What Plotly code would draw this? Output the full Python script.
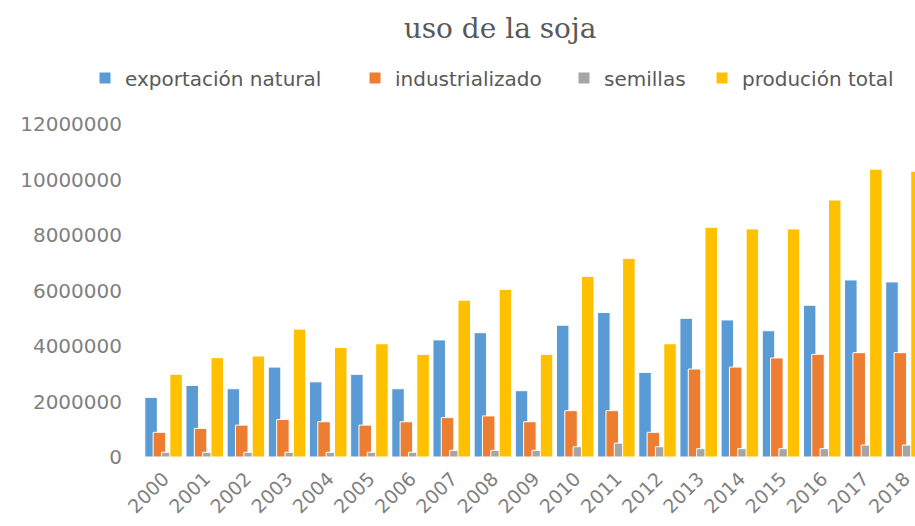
import plotly.graph_objects as go

years = [str(y) for y in range(2000, 2019)]
exportacion = [2150000, 2580000, 2460000, 3240000, 2710000, 2980000, 2460000, 4220000, 4480000, 2390000,
               4750000, 5210000, 3050000, 5000000, 4940000, 4550000, 5470000, 6380000, 6310000]
industrializado = [890000, 1030000, 1150000, 1350000, 1270000, 1150000, 1270000, 1420000, 1480000, 1270000,
                   1670000, 1670000, 890000, 3170000, 3240000, 3570000, 3700000, 3760000, 3760000]
semillas = [170000, 170000, 170000, 170000, 170000, 170000, 170000, 240000, 240000, 240000,
            370000, 500000, 370000, 300000, 300000, 300000, 300000, 430000, 430000]
produccion = [2980000, 3580000, 3640000, 4610000, 3950000, 4080000, 3700000, 5650000, 6040000, 3700000,
              6510000, 7160000, 4080000, 8280000, 8220000, 8220000, 9260000, 10370000, 10300000]
y_ticks = [0, 2000000, 4000000, 6000000, 8000000, 10000000, 12000000]

series = [
    ("exportación natural", exportacion, "#5B9BD5", -0.456, "legend", 85),
    ("industrializado", industrializado, "#ED7D31", -0.253, "legend2", 355),
    ("semillas", semillas, "#A5A5A5", -0.051, "legend3", 564),
    ("produción total", produccion, "#FFC000", 0.152, "legend4", 702),
]

xs = list(range(len(years)))
fig = go.Figure()
legend_layouts = {}
for name, vals, color, off, leg, lx in series:
    fig.add_trace(go.Bar(
        x=xs, y=vals, name=name, legend=leg, showlegend=True,
        offset=off, width=0.304,
        marker=dict(color=color, line=dict(color="white", width=1)),
    ))
    legend_layouts[leg] = dict(
        orientation="h", xref="container", yref="container", x=lx / 915, xanchor="left",
        y=1 - 78 / 526, yanchor="middle", itemwidth=30, bgcolor="rgba(0,0,0,0)",
        font=dict(family="DejaVu Sans", size=20, color="#595959"),
    )

fig.update_layout(
    width=915, height=526,
    showlegend=True,
    barmode="overlay",
    plot_bgcolor="white", paper_bgcolor="white",
    margin=dict(l=143, r=0, t=124, b=69),
    title=dict(text="uso de la soja", font=dict(family="DejaVu Serif", size=28, color="#595959"),
               x=500/915, xref="container", xanchor="center", y=1-28/526, yref="container", yanchor="middle"),
    xaxis=dict(range=[-0.5, 18.255], tickmode="array", tickvals=xs, ticktext=years, tickangle=-45,
               showgrid=False, zeroline=False, showline=False, ticks="", ticklabelstandoff=6,
               tickfont=dict(family="DejaVu Sans", size=19, color="#7F7F7F")),
    yaxis=dict(range=[0, 12000000], tickvals=y_ticks, ticktext=[str(v) for v in y_ticks],
               showgrid=False, zeroline=False, showline=False, ticks="", ticklabelstandoff=20,
               tickfont=dict(family="DejaVu Sans", size=20, color="#7F7F7F")),
    **legend_layouts,
)

fig.write_html("out.html", config={"displayModeBar": False},
               post_script="document.body.style.margin='0';document.body.style.overflow='hidden';")
